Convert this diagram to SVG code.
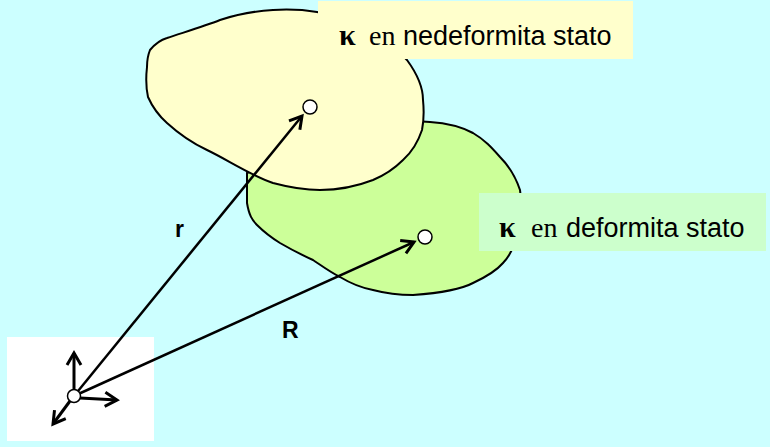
<svg xmlns="http://www.w3.org/2000/svg" width="770" height="447" viewBox="0 0 770 447">
<style>
.blob{stroke:#000;stroke-width:2}
.vec{stroke:#000;stroke-width:2.5;fill:none}
.ax{stroke:#000;stroke-width:3;fill:none}
.pt{fill:#fff;stroke:#000;stroke-width:1.5}
.sans{font-family:"Liberation Sans",Arial,sans-serif;font-size:27px}
.ser{font-family:"Liberation Serif","Times New Roman",serif;font-size:28px}
.kap{font-family:"Liberation Serif","Times New Roman",serif;font-size:30px;font-weight:bold}
.lbl{font-family:"Liberation Sans",Arial,sans-serif;font-size:23px;font-weight:bold}
</style>
<defs>
<marker id="ah" markerWidth="16" markerHeight="18" refX="13" refY="9" orient="auto" markerUnits="userSpaceOnUse">
<path d="M1,2 L13,9 L1,16" fill="none" stroke="#000" stroke-width="3"/>
</marker>
</defs>
<rect width="770" height="447" fill="#CCFFFF"/>
<g id="origin-box"><rect x="7" y="337" width="147" height="104" fill="#fff"/></g>
<g id="deformed-body">
<path class="blob" fill="#CCFF99" d="M247,173 L247,203 C249,215 252,220 257,225 C265,233 272,238 280,243 C292,250 302,255 313,260 C322,266 330,272 340,277 C350,283 362,288 373,290 C388,294 400,295 413,295 C440,293 460,290 473,283 C488,276 497,270 503,263 C510,256 515,245 518,230 C521,215 522,203 520,190 C515,175 508,165 500,157 C492,148 485,140 473,133 C460,126 445,123 430,122 L400,120 L300,150 Z"/>
</g>
<g id="undeformed-body">
<path class="blob" fill="#FFFFCC" d="M150,50 C155,44 160,40 167,38 C185,32 205,26 220,20 C238,14 255,11 273,10 C290,9 305,10 317,12 C350,18 385,35 407,60 C418,75 423,88 423,100 C424,110 424,120 422,130 C418,142 412,152 403,160 C395,168 385,175 373,180 C355,187 340,190 320,190 C302,190 288,187 273,183 C250,175 228,160 207,150 C192,143 178,133 167,123 C158,115 152,106 148,97 C146,88 146,76 147,67 C147,60 148,55 150,50 Z"/>
</g>
<g id="label-undeformed">
<rect x="318" y="1" width="315" height="58" fill="#FFFFCC"/>
<text x="339" y="45" class="kap">κ</text>
<text x="369" y="45" class="ser">en</text>
<text x="403" y="45" class="sans">nedeformita stato</text>
</g>
<g id="label-deformed">
<rect x="479" y="193" width="287" height="58" fill="#CCFFCC"/>
<text x="499" y="237" class="kap">κ</text>
<text x="531" y="237" class="ser">en</text>
<text x="566" y="237" class="sans">deformita stato</text>
</g>
<g id="connectors">
<line class="vec" x1="74" y1="396" x2="302" y2="116" marker-end="url(#ah)"/>
<line class="vec" x1="74" y1="396" x2="414" y2="242" marker-end="url(#ah)"/>
<line class="ax" x1="74" y1="390" x2="74" y2="353" marker-end="url(#ah)"/>
<line class="ax" x1="80" y1="398" x2="117" y2="400" marker-end="url(#ah)"/>
<line class="ax" x1="70" y1="401" x2="53" y2="424" marker-end="url(#ah)"/>
</g>
<g id="point-origin"><circle class="pt" cx="74" cy="396" r="6.5"/></g>
<g id="point-r"><circle class="pt" cx="310" cy="107" r="7"/></g>
<g id="point-R"><circle class="pt" cx="425" cy="237" r="7"/></g>
<text x="175" y="237" class="lbl">r</text>
<text x="282" y="338" class="lbl">R</text>
</svg>
